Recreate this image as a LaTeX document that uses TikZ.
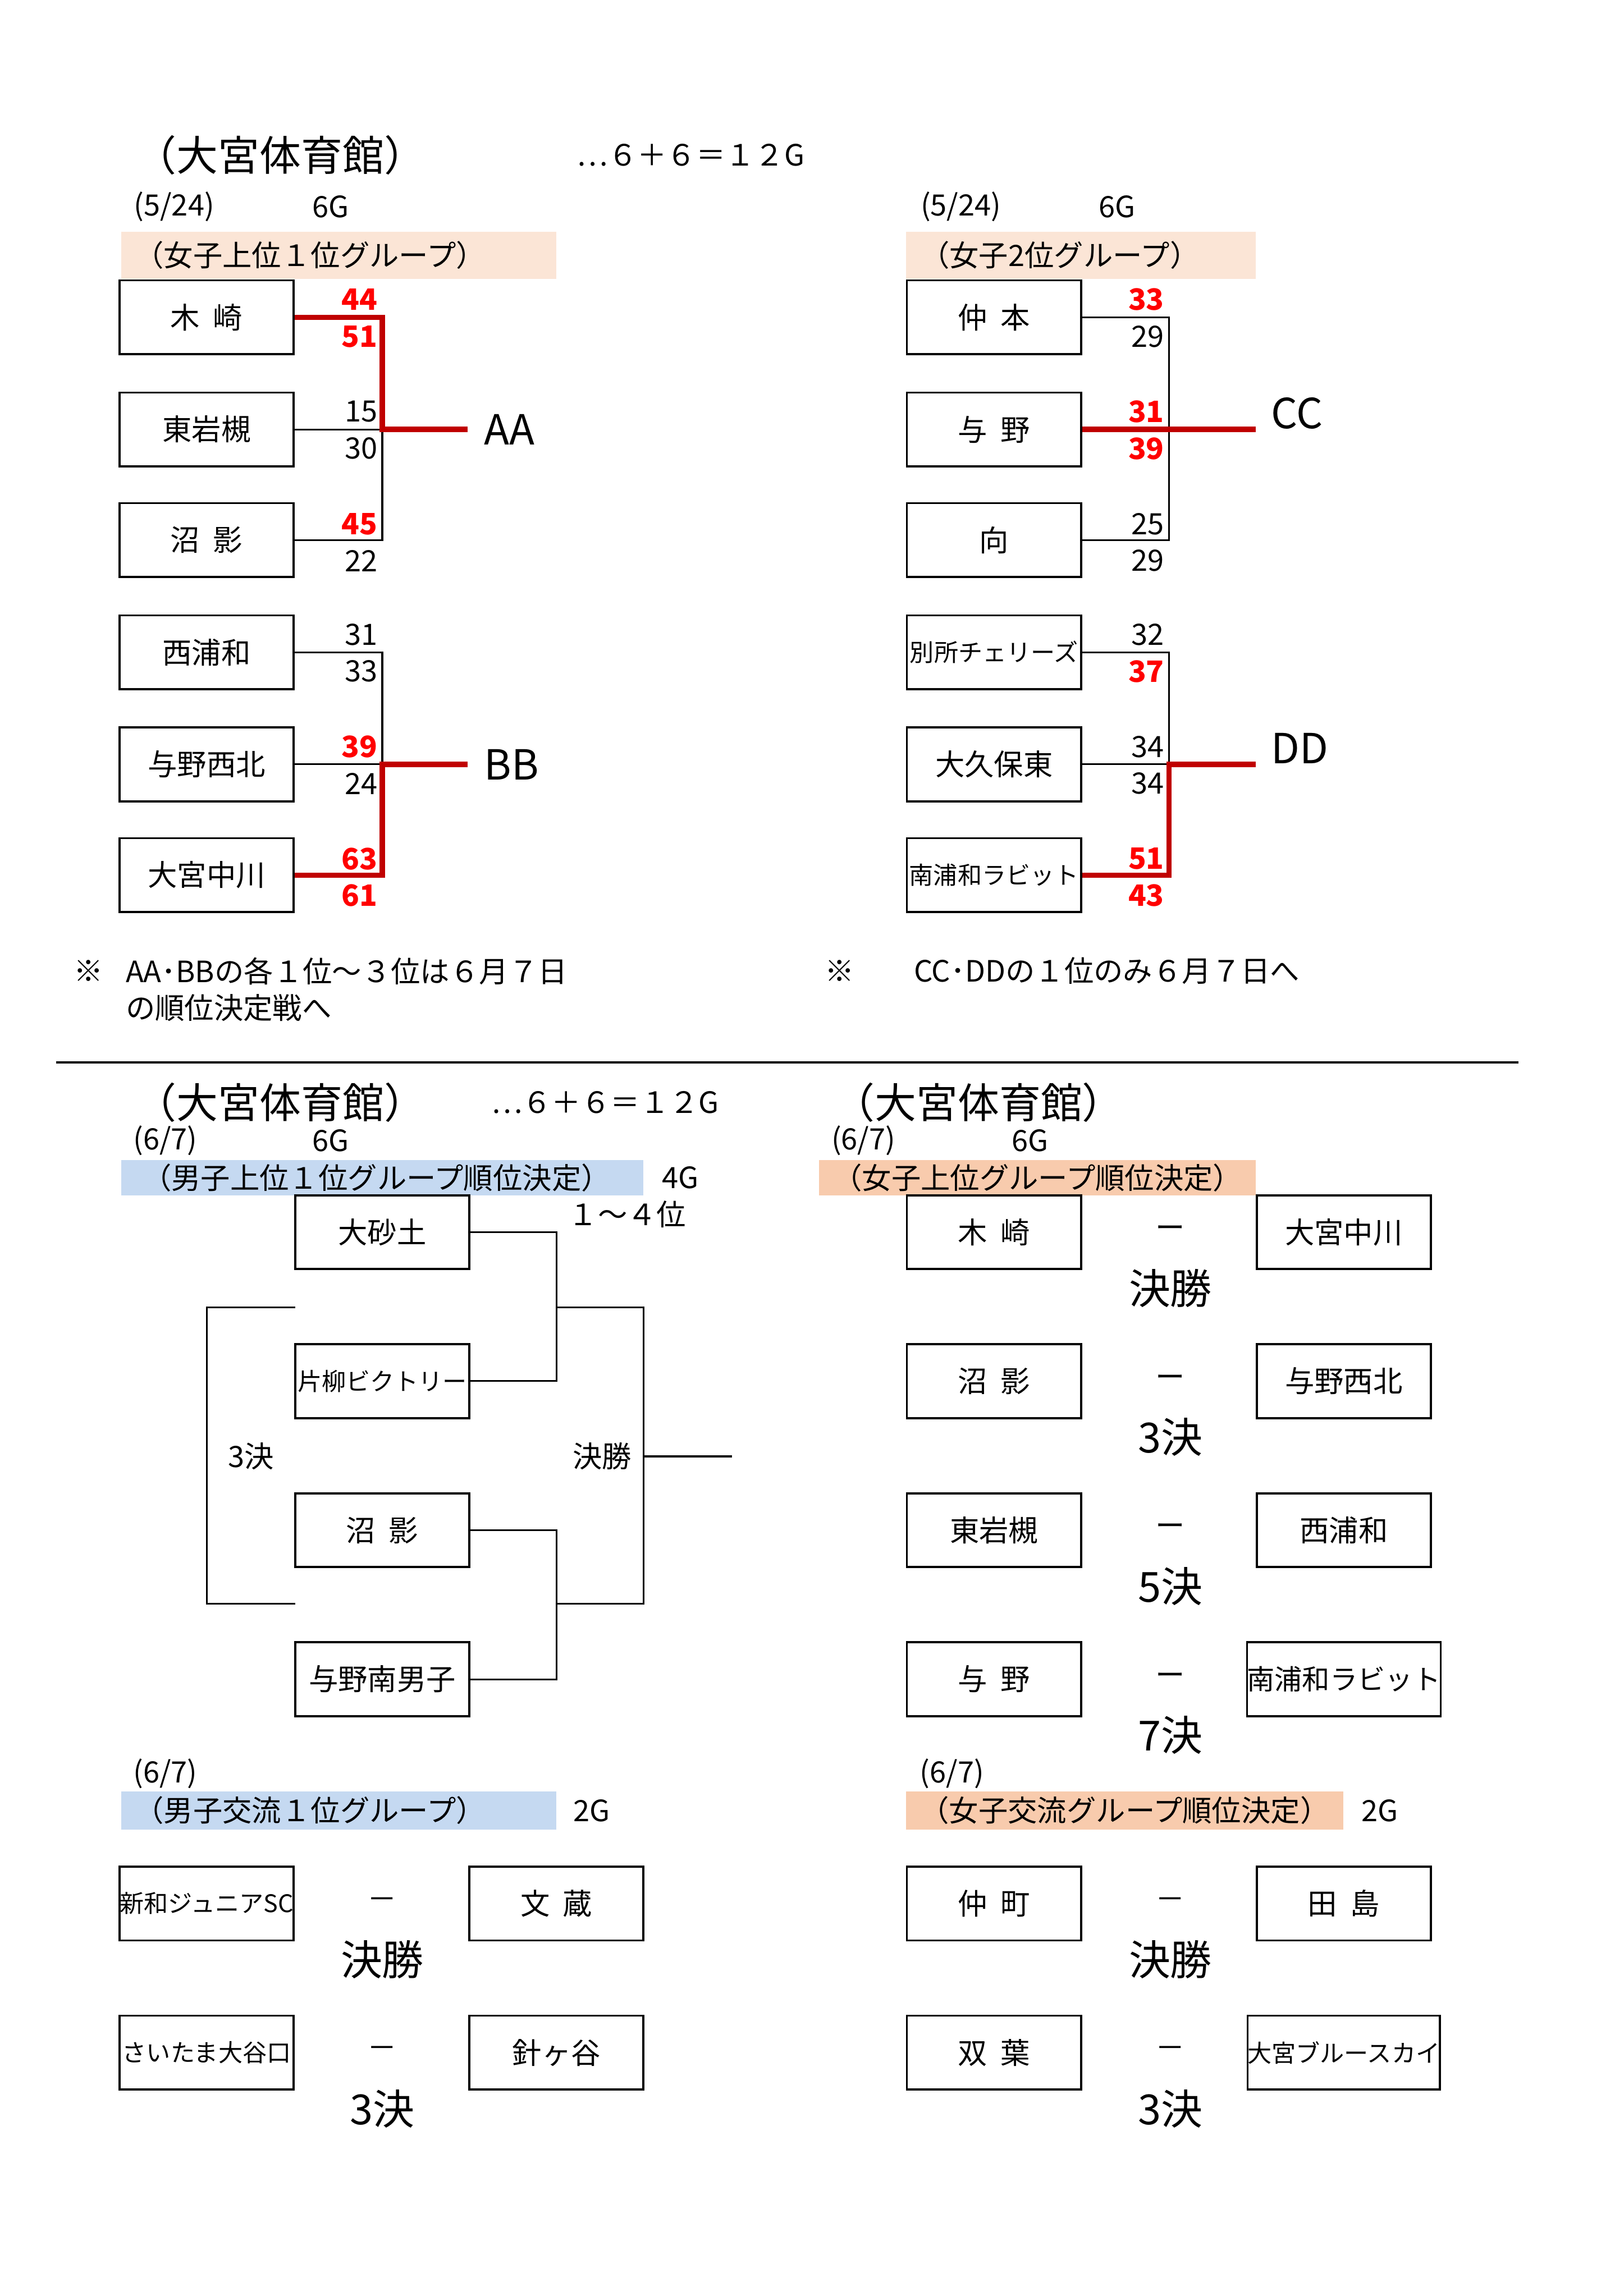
\documentclass[tikz,border=0pt]{standalone}
\usepackage{fontspec}
\setmainfont{Noto Sans CJK JP}
\definecolor{peach}{HTML}{FBE5D6}
\definecolor{peach2}{HTML}{F8CBAD}
\definecolor{blu}{HTML}{C5D9F1}
\definecolor{dred}{HTML}{C00000}
\newcommand{\fs}[1]{\fontsize{#1}{#1}\selectfont}
\begin{document}
\begin{tikzpicture}[x=0.03cm,y=-0.03cm,
  bx/.style={draw,line width=1.2pt,minimum width=3.54cm,minimum height=1.5cm,inner sep=0pt,font=\fs{17}},
  sbx/.style={bx,font=\fs{14}},
  ln/.style={line width=1pt},
  rl/.style={line width=3pt,dred},
  sc/.style={anchor=east,inner sep=0pt,font=\fs{17}},
  rs/.style={sc,text=red,font=\bfseries\fs{17}},
  tx/.style={inner sep=0pt,font=\fs{17}},
  big/.style={inner sep=0pt,font=\fs{24}}]
\useasboundingbox (0,0) rectangle (1100,1556);
% ===== top left
\node[big] (t1) at (190,105) {（大宮体育館）};
\node[tx] (t1b) at (468,105) {…６＋６＝１２G};
\node[tx] (d1) at (118,140) {(5/24)};
\node[tx] (g1) at (224,140) {6G};
\fill[peach] (82,157) rectangle (377,189);
\node[tx] (h1) at (210,173) {（女子上位１位グループ）};
\node[bx] (a1) at (140,215) {木\ \ 崎};
\node[bx] (a2) at (140,291) {東岩槻};
\node[bx] (a3) at (140,366) {沼\ \ 影};
\node[bx] (a4) at (140,442) {西浦和};
\node[bx] (a5) at (140,518) {与野西北};
\node[bx] (a6) at (140,593) {大宮中川};
\coordinate (aa) at (317,291);
\coordinate (bb) at (317,518);
\draw[ln] (a2.east) -- (aa);
\draw[ln] (a3.east) -- (259,366) -- (259,291);
\draw[rl] (a1.east) -- (259,215) -- (259,291) -- (aa);
\node[big,anchor=west] (AA) at (328,291) {AA};
\draw[ln] (a4.east) -- (259,442) -- (259,518);
\draw[ln] (a5.east) -- (259,518);
\draw[rl] (a6.east) -- (259,593) -- (259,518) -- (bb);
\node[big,anchor=west] (BB) at (328,518) {BB};
\node[rs] at (256,203) {44}; \node[rs] at (256,228) {51};
\node[sc] at (256,279) {15}; \node[sc] at (256,304) {30};
\node[rs] at (256,355) {45}; \node[sc] at (256,380) {22};
\node[sc] at (256,430) {31}; \node[sc] at (256,455) {33};
\node[rs] at (256,506) {39}; \node[sc] at (256,531) {24};
\node[rs] at (256,582) {63}; \node[rs] at (256,607) {61};
% ===== top right
\node[tx] (d2) at (651,140) {(5/24)};
\node[tx] (g2) at (757,140) {6G};
\fill[peach] (614,157) rectangle (851,189);
\node[tx] (h2) at (718,173) {（女子2位グループ）};
\node[bx] (c1) at (673.5,215) {仲\ \ 本};
\node[bx] (c2) at (673.5,291) {与\ \ 野};
\node[bx] (c3) at (673.5,366) {向};
\node[sbx] (c4) at (673.5,442) {別所チェリーズ};
\node[bx] (c5) at (673.5,518) {大久保東};
\node[sbx] (c6) at (673.5,593) {南浦和ラビット};
\coordinate (cc) at (851,291);
\coordinate (dd) at (851,518);
\draw[ln] (c1.east) -- (792,215) -- (792,366) -- (c3.east);
\draw[rl] (c2.east) -- (cc);
\node[big,anchor=west] (CC) at (861,280) {CC};
\draw[ln] (c4.east) -- (792,442) -- (792,518);
\draw[ln] (c5.east) -- (792,518);
\draw[rl] (c6.east) -- (792,593) -- (792,518) -- (dd);
\node[big,anchor=west] (DD) at (861,507) {DD};
\node[rs] at (789,203) {33}; \node[sc] at (789,228) {29};
\node[rs] at (789,279) {31}; \node[rs] at (789,304) {39};
\node[sc] at (789,355) {25}; \node[sc] at (789,380) {29};
\node[sc] at (789,430) {32}; \node[rs] at (789,455) {37};
\node[sc] at (789,506) {34}; \node[sc] at (789,531) {34};
\node[rs] at (789,582) {51}; \node[rs] at (789,607) {43};
% notes
\node[tx] (n1) at (60,658) {※};
\node[tx,anchor=west] (n2) at (85,658) {AA･BBの各１位～３位は６月７日};
\node[tx,anchor=west] (n3) at (85,683) {の順位決定戦へ};
\node[tx] (n4) at (569,658) {※};
\node[tx,anchor=west] (n5) at (619,658) {CC･DDの１位のみ６月７日へ};
\draw[line width=1.2pt] (38,720) -- (1029,720);
% ===== lower left
\node[big] (t3) at (190,747) {（大宮体育館）};
\node[tx] (t3b) at (410,747) {…６＋６＝１２G};
\node[tx] (d3) at (112,773) {(6/7)};
\node[tx] (g3) at (224,773) {6G};
\fill[blu] (82,786) rectangle (436,810);
\node[tx] (h3) at (255,798) {（男子上位１位グループ順位決定）};
\node[tx] (g3b) at (461,798) {4G};
\node[tx] (r3) at (425,823) {１～４位};
\node[bx] (m1) at (259,835) {大砂土};
\node[sbx] (m2) at (259,936) {片柳ビクトリー};
\node[bx] (m3) at (259,1037) {沼\ \ 影};
\node[bx] (m4) at (259,1138) {与野南男子};
\coordinate (fin) at (496,987);
\draw[ln] (m1.east) -- (377,835) -- (377,936) -- (m2.east);
\draw[ln] (m3.east) -- (377,1037) -- (377,1138) -- (m4.east);
\draw[ln] (377,886) -- (436,886) -- (436,1087) -- (377,1087);
\draw[ln] (436,987) -- (fin);
\draw[ln] (200,886) -- (140,886) -- (140,1087) -- (200,1087);
\node[tx] (k3) at (170,987) {3決};
\node[tx] (k1) at (408,987) {決勝};
% ===== lower right
\node[big] (t4) at (663,747) {（大宮体育館）};
\node[tx] (d4) at (585,773) {(6/7)};
\node[tx] (g4) at (698,773) {6G};
\fill[peach2] (555,786) rectangle (851,810);
\node[tx] (h4) at (703,798) {（女子上位グループ順位決定）};
\node[bx] (f1) at (673.5,835) {木\ \ 崎};
\node[bx] (f2) at (673.5,936) {沼\ \ 影};
\node[bx] (f3) at (673.5,1037) {東岩槻};
\node[bx] (f4) at (673.5,1138) {与\ \ 野};
\node[bx] (e1) at (910.5,835) {大宮中川};
\node[bx] (e2) at (910.5,936) {与野西北};
\node[bx] (e3) at (910.5,1037) {西浦和};
\node[sbx,font=\fs{16}] (e4) at (910.5,1138) {南浦和ラビット};
\foreach \y/\l in {835/決勝,936/3決,1037/5決,1138/7決}{
  \node[tx] at (793,\y) {ー};
  \node[big] at (793,\y+38) {\l};}
% ===== bottom left
\node[tx] (d5) at (112,1202) {(6/7)};
\fill[blu] (82,1214) rectangle (377,1240);
\node[tx] (h5) at (210,1227) {（男子交流１位グループ）};
\node[tx] (g5) at (401,1227) {2G};
\node[sbx] (p1) at (140,1290) {新和ジュニアSC};
\node[sbx] (p2) at (140,1391) {さいたま大谷口};
\node[bx] (q1) at (377,1290) {文\ \ 蔵};
\node[bx] (q2) at (377,1391) {針ヶ谷};
\foreach \y/\l in {1290/決勝,1391/3決}{
  \node[tx] at (259,\y) {－};
  \node[big] at (259,\y+38) {\l};}
% ===== bottom right
\node[tx] (d6) at (645,1202) {(6/7)};
\fill[peach2] (614,1214) rectangle (910,1240);
\node[tx] (h6) at (762,1227) {（女子交流グループ順位決定）};
\node[tx] (g6) at (935,1227) {2G};
\node[bx] (s1) at (673.5,1290) {仲\ \ 町};
\node[bx] (s2) at (673.5,1391) {双\ \ 葉};
\node[bx] (u1) at (910.5,1290) {田\ \ 島};
\node[sbx] (u2) at (910.5,1391) {大宮ブルースカイ};
\foreach \y/\l in {1290/決勝,1391/3決}{
  \node[tx] at (793,\y) {－};
  \node[big] at (793,\y+38) {\l};}
\end{tikzpicture}
\end{document}
